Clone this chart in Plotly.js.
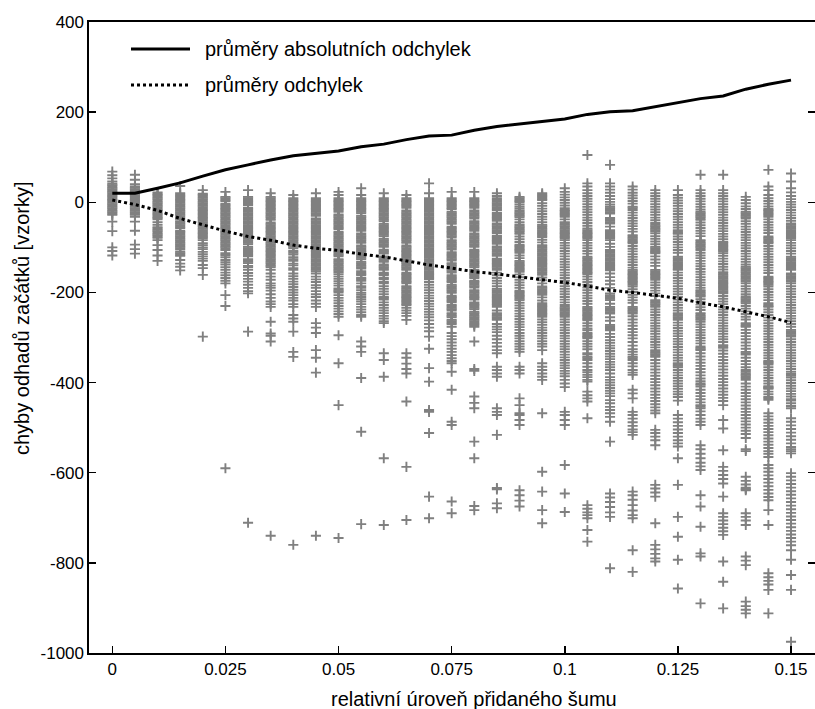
<!DOCTYPE html>
<html>
<head>
<meta charset="utf-8">
<script src="https://cdn.plot.ly/plotly-3.0.1.min.js"></script>
<style>html,body{margin:0;padding:0;background:#fff;}#chart{width:815px;height:709px;}</style>
</head>
<body>
<div id="chart"></div>
<script>
// noise levels (x)
const noise = [0,0.005,0.01,0.015,0.02,0.025,0.03,0.035,0.04,0.045,0.05,0.055,0.06,0.065,0.07,0.075,0.08,0.085,0.09,0.095,0.1,0.105,0.11,0.115,0.12,0.125,0.13,0.135,0.14,0.145,0.15];

// mean lines
const meanAbs = [20,20,31,43,58,72,83,94,103,109,114,123,129,139,147,149,160,168,174,179,185,195,201,203,212,221,230,236,251,262,271];
const meanDev = [5,-5,-18,-36,-50,-64,-76,-84,-95,-102,-107,-115,-121,-130,-139,-146,-154,-159,-165,-172,-178,-186,-195,-200,-206,-213,-223,-232,-243,-254,-267];

// individual onset-estimate errors per noise level
const e000 = [68,60,53,46,41,38,35,32,29,26,23,20,17,14,11,8,5,2,-1,-4,-7,-10,-13,-16,-19,-22,-25,-28,-43,-64,-100,-108,-118];
const e005 = [61,50,40,35,32,29,26,23,20,17,14,11,8,5,2,-1,-4,-7,-10,-13,-16,-19,-22,-25,-28,-32,-43,-63,-94,-104,-114];
const e010 = [22,19,16,13,10,7,4,1,-2,-5,-8,-11,-14,-17,-20,-23,-26,-29,-32,-35,-38,-44,-50,-55,-58,-61,-64,-67,-70,-73,-76,-79,-84,-95,-106,-118,-130];
const e015 = [36,20,17,14,11,8,5,2,-1,-4,-7,-10,-13,-16,-19,-22,-25,-28,-31,-34,-37,-42,-45,-48,-51,-54,-57,-63,-66,-69,-72,-75,-78,-81,-84,-87,-90,-93,-96,-99,-102,-105,-110,-113,-116,-119,-128,-136,-143,-151];
const e020 = [27,19,16,13,10,7,4,1,-2,-5,-8,-11,-14,-17,-20,-23,-26,-29,-32,-35,-38,-41,-44,-47,-50,-53,-56,-59,-62,-65,-68,-71,-74,-77,-80,-84,-91,-95,-100,-104,-110,-115,-120,-125,-130,-139,-146,-161,-298];
const e025 = [23,12,9,6,3,-3,-6,-9,-12,-15,-18,-21,-24,-27,-30,-33,-36,-39,-42,-45,-48,-51,-54,-57,-60,-63,-66,-69,-72,-75,-78,-81,-84,-87,-90,-93,-96,-99,-102,-106,-113,-117,-122,-128,-133,-138,-144,-150,-156,-162,-168,-174,-180,-206,-230,-590];
const e030 = [27,12,9,6,3,0,-3,-6,-12,-15,-18,-21,-24,-27,-30,-33,-36,-39,-42,-45,-48,-51,-54,-57,-60,-63,-66,-69,-72,-75,-78,-81,-84,-87,-90,-93,-99,-102,-105,-108,-111,-114,-117,-120,-126,-129,-132,-135,-141,-144,-150,-157,-163,-170,-176,-183,-190,-197,-202,-287,-711];
const e035 = [20,12,9,6,3,0,-3,-6,-9,-12,-15,-18,-21,-24,-27,-30,-33,-36,-39,-45,-48,-51,-54,-57,-60,-63,-66,-69,-72,-75,-78,-81,-84,-87,-90,-93,-96,-99,-102,-105,-108,-111,-114,-117,-120,-123,-126,-129,-132,-135,-138,-141,-144,-150,-158,-165,-172,-180,-185,-190,-196,-204,-212,-220,-226,-232,-265,-291,-296,-309,-740];
const e040 = [16,9,6,3,0,-3,-6,-9,-12,-15,-18,-21,-24,-27,-30,-33,-36,-39,-42,-45,-48,-51,-54,-57,-60,-63,-66,-69,-72,-75,-78,-81,-84,-87,-90,-93,-96,-99,-102,-108,-112,-116,-122,-126,-130,-136,-140,-146,-150,-158,-164,-170,-176,-182,-188,-194,-200,-206,-212,-218,-226,-232,-250,-258,-265,-287,-332,-343,-760];
const e045 = [20,9,6,3,0,-3,-6,-9,-12,-15,-18,-21,-24,-27,-30,-36,-39,-42,-45,-48,-51,-54,-57,-60,-63,-66,-69,-72,-75,-78,-81,-84,-87,-90,-93,-96,-99,-102,-105,-108,-111,-114,-117,-120,-123,-126,-129,-132,-135,-138,-141,-144,-147,-150,-153,-158,-165,-171,-177,-184,-190,-197,-204,-210,-218,-225,-232,-268,-278,-290,-328,-345,-378,-740];
const e050 = [23,16,9,6,3,0,-3,-6,-9,-12,-15,-18,-21,-27,-30,-33,-36,-39,-42,-45,-48,-51,-54,-57,-60,-66,-69,-72,-75,-78,-81,-84,-87,-90,-93,-96,-99,-102,-105,-108,-111,-114,-117,-120,-126,-129,-132,-135,-138,-141,-144,-147,-150,-153,-156,-160,-165,-170,-175,-180,-185,-191,-194,-197,-200,-206,-212,-218,-224,-230,-236,-242,-248,-254,-295,-357,-450,-745];
const e055 = [31,16,9,6,3,0,-3,-6,-9,-12,-15,-18,-21,-24,-30,-33,-36,-39,-42,-45,-48,-51,-54,-57,-60,-63,-69,-72,-75,-78,-81,-84,-87,-90,-96,-99,-102,-105,-108,-111,-114,-117,-120,-123,-126,-132,-135,-138,-141,-144,-147,-153,-156,-159,-162,-168,-171,-174,-180,-186,-190,-195,-201,-205,-210,-215,-220,-226,-232,-238,-244,-250,-254,-309,-320,-332,-390,-509,-714];
const e060 = [20,9,6,3,0,-3,-6,-9,-12,-15,-18,-21,-24,-27,-30,-33,-36,-39,-42,-48,-51,-54,-57,-60,-63,-66,-69,-72,-75,-81,-84,-87,-90,-93,-96,-99,-105,-108,-111,-114,-120,-123,-126,-129,-132,-138,-141,-144,-147,-150,-156,-159,-162,-168,-171,-177,-180,-186,-192,-198,-204,-210,-213,-216,-222,-228,-234,-240,-246,-252,-258,-264,-268,-335,-350,-387,-568,-716];
const e065 = [16,9,6,3,0,-3,-6,-9,-12,-18,-21,-24,-27,-30,-33,-36,-39,-42,-45,-48,-51,-54,-57,-60,-63,-66,-69,-72,-75,-78,-81,-84,-87,-90,-96,-99,-102,-105,-108,-111,-114,-117,-120,-123,-126,-129,-132,-135,-138,-141,-144,-147,-150,-156,-159,-162,-165,-168,-171,-174,-177,-180,-186,-189,-192,-195,-198,-201,-204,-207,-210,-213,-216,-219,-222,-225,-228,-234,-240,-246,-252,-261,-335,-345,-358,-370,-380,-442,-587,-705];
const e070 = [42,20,9,6,3,0,-3,-6,-9,-12,-15,-18,-21,-24,-27,-30,-33,-36,-39,-42,-45,-48,-51,-54,-57,-60,-63,-66,-69,-72,-75,-78,-81,-84,-87,-90,-93,-96,-99,-102,-105,-108,-111,-114,-117,-120,-123,-126,-129,-132,-135,-138,-141,-144,-147,-150,-153,-156,-159,-162,-165,-168,-171,-177,-183,-189,-195,-201,-207,-213,-219,-225,-231,-237,-243,-249,-255,-262,-270,-278,-286,-298,-325,-368,-398,-461,-465,-512,-653,-701];
const e075 = [23,9,6,3,0,-3,-6,-9,-12,-15,-21,-24,-27,-30,-33,-36,-39,-42,-45,-48,-54,-57,-60,-63,-66,-69,-72,-75,-78,-84,-87,-90,-93,-96,-99,-102,-105,-111,-114,-117,-120,-123,-126,-129,-135,-138,-141,-144,-147,-150,-153,-156,-162,-165,-168,-171,-174,-177,-183,-186,-189,-192,-195,-198,-201,-207,-210,-213,-216,-219,-222,-228,-231,-234,-237,-240,-246,-249,-252,-255,-261,-264,-267,-270,-276,-290,-297,-304,-311,-318,-325,-332,-339,-346,-352,-357,-376,-416,-487,-494,-664,-690];
const e080 = [23,9,6,3,0,-3,-6,-9,-12,-18,-21,-24,-27,-30,-33,-36,-42,-45,-48,-51,-54,-57,-60,-63,-69,-72,-75,-78,-81,-84,-87,-90,-93,-96,-99,-105,-108,-111,-114,-117,-120,-123,-126,-129,-132,-135,-138,-141,-144,-150,-153,-156,-159,-162,-165,-168,-174,-177,-180,-183,-186,-189,-195,-198,-201,-204,-207,-210,-213,-216,-222,-225,-228,-231,-234,-237,-243,-246,-249,-252,-255,-258,-261,-264,-267,-270,-273,-276,-309,-370,-374,-431,-445,-457,-531,-568,-674,-683];
const e085 = [20,14,9,5,1,-2,-5,-8,-11,-14,-17,-23,-26,-29,-32,-35,-38,-41,-47,-50,-53,-56,-59,-62,-65,-68,-74,-77,-80,-83,-86,-89,-92,-98,-101,-104,-107,-110,-113,-116,-119,-125,-128,-131,-134,-137,-140,-143,-146,-150,-156,-162,-168,-174,-180,-186,-192,-195,-198,-201,-204,-207,-210,-213,-216,-219,-222,-225,-228,-232,-240,-246,-249,-252,-255,-258,-261,-270,-276,-282,-288,-296,-304,-312,-320,-328,-335,-365,-372,-380,-387,-457,-465,-472,-516,-634,-637,-668,-679];
const e090 = [12,9,6,3,0,-5,-10,-14,-18,-21,-24,-27,-30,-33,-38,-44,-49,-52,-55,-58,-61,-64,-67,-70,-76,-82,-88,-94,-97,-100,-103,-106,-109,-112,-118,-124,-130,-133,-136,-139,-142,-145,-148,-151,-154,-160,-166,-172,-178,-184,-190,-196,-199,-202,-205,-208,-211,-214,-217,-223,-229,-235,-241,-247,-253,-259,-265,-271,-277,-283,-290,-296,-302,-308,-314,-320,-326,-332,-365,-372,-380,-435,-450,-468,-472,-483,-494,-639,-650,-662,-675];
const e095 = [20,17,14,11,8,5,-2,-8,-14,-20,-26,-32,-38,-44,-50,-53,-56,-59,-62,-65,-68,-71,-74,-77,-83,-89,-95,-98,-101,-104,-107,-110,-113,-116,-119,-122,-125,-128,-131,-134,-137,-140,-143,-146,-149,-152,-155,-158,-161,-167,-173,-180,-187,-190,-193,-196,-199,-202,-205,-211,-218,-224,-227,-230,-233,-236,-239,-242,-245,-248,-251,-254,-260,-266,-272,-278,-284,-290,-296,-302,-308,-314,-320,-328,-357,-365,-372,-380,-387,-394,-468,-598,-642,-683,-712];
const e100 = [31,23,17,11,5,-1,-7,-13,-17,-20,-23,-26,-29,-32,-38,-44,-47,-50,-53,-56,-59,-62,-65,-68,-71,-74,-77,-80,-84,-90,-96,-102,-108,-114,-120,-126,-132,-138,-144,-150,-156,-162,-168,-174,-180,-186,-192,-198,-204,-210,-216,-222,-228,-232,-235,-238,-241,-244,-247,-250,-254,-260,-266,-272,-278,-284,-290,-296,-302,-308,-314,-320,-326,-332,-338,-344,-350,-356,-362,-368,-374,-380,-386,-394,-402,-410,-465,-472,-483,-494,-583,-646,-687];
const e105 = [105,42,35,27,20,14,8,2,-4,-10,-16,-22,-28,-34,-40,-46,-52,-58,-62,-65,-68,-71,-74,-77,-80,-84,-90,-96,-102,-108,-114,-121,-124,-127,-130,-133,-136,-139,-142,-145,-148,-151,-154,-157,-160,-165,-171,-177,-183,-189,-195,-201,-207,-213,-219,-225,-232,-235,-238,-241,-244,-247,-250,-253,-256,-259,-262,-268,-274,-280,-284,-290,-293,-296,-299,-302,-308,-314,-320,-326,-335,-338,-343,-346,-350,-357,-365,-372,-377,-383,-388,-394,-398,-420,-428,-435,-442,-479,-672,-680,-688,-694,-701,-727,-753];
const e110 = [83,42,35,28,21,14,7,1,-5,-10,-13,-16,-19,-22,-25,-35,-38,-41,-44,-47,-54,-62,-65,-68,-71,-74,-77,-80,-84,-92,-99,-106,-109,-112,-115,-118,-121,-124,-127,-130,-133,-136,-139,-142,-145,-148,-151,-158,-166,-174,-182,-190,-202,-206,-210,-214,-217,-225,-232,-235,-238,-241,-244,-247,-255,-263,-272,-275,-278,-281,-284,-292,-299,-306,-312,-318,-324,-330,-336,-342,-348,-354,-360,-366,-372,-380,-388,-394,-400,-406,-412,-418,-424,-430,-439,-446,-454,-461,-468,-476,-487,-531,-646,-655,-665,-676,-688,-698,-812];
const e115 = [35,28,21,15,9,3,-3,-10,-13,-17,-23,-29,-35,-41,-47,-53,-59,-65,-73,-76,-79,-82,-85,-88,-91,-97,-103,-109,-115,-121,-127,-133,-139,-145,-150,-153,-156,-159,-162,-165,-168,-171,-174,-177,-180,-183,-187,-193,-199,-205,-211,-217,-223,-232,-235,-238,-241,-244,-247,-253,-260,-267,-274,-281,-288,-295,-302,-310,-318,-326,-332,-338,-343,-346,-350,-357,-364,-372,-378,-383,-416,-424,-435,-465,-472,-480,-488,-496,-504,-510,-516,-642,-650,-660,-672,-684,-694,-701,-772,-820];
const e120 = [27,20,14,8,2,-4,-10,-16,-22,-28,-34,-40,-46,-50,-53,-56,-59,-62,-65,-69,-75,-81,-87,-93,-99,-102,-105,-108,-111,-113,-120,-127,-134,-141,-150,-153,-156,-159,-162,-165,-168,-172,-178,-184,-190,-196,-202,-208,-217,-220,-223,-226,-229,-232,-238,-244,-250,-256,-262,-268,-274,-280,-286,-292,-298,-304,-310,-316,-322,-328,-331,-334,-337,-340,-343,-350,-357,-364,-371,-378,-385,-392,-399,-406,-413,-420,-427,-434,-441,-448,-455,-462,-468,-505,-512,-520,-528,-539,-627,-635,-644,-653,-712,-760,-770,-780,-790,-797];
const e125 = [27,16,10,4,-2,-8,-14,-20,-26,-32,-38,-44,-50,-56,-62,-65,-68,-70,-76,-82,-88,-94,-100,-106,-112,-121,-124,-127,-130,-133,-136,-139,-142,-145,-148,-150,-156,-162,-168,-174,-180,-186,-192,-198,-204,-210,-216,-222,-228,-234,-240,-246,-249,-252,-255,-258,-261,-267,-273,-279,-285,-291,-297,-303,-309,-315,-321,-327,-333,-339,-345,-351,-357,-360,-363,-366,-372,-378,-384,-390,-396,-402,-408,-414,-420,-426,-432,-440,-472,-480,-488,-496,-504,-512,-520,-528,-535,-542,-568,-627,-698,-742,-793,-857];
const e130 = [61,27,20,14,8,2,-4,-10,-16,-21,-24,-27,-30,-33,-36,-39,-45,-51,-57,-63,-69,-75,-84,-87,-90,-93,-96,-99,-102,-106,-112,-118,-124,-130,-136,-142,-148,-154,-160,-166,-172,-178,-184,-190,-195,-198,-201,-204,-207,-209,-215,-221,-227,-233,-239,-246,-249,-252,-255,-258,-261,-265,-271,-277,-283,-289,-295,-301,-307,-313,-320,-323,-326,-328,-335,-342,-349,-356,-363,-370,-377,-384,-391,-397,-402,-405,-409,-416,-423,-430,-437,-444,-450,-453,-457,-464,-472,-480,-487,-494,-539,-548,-558,-568,-578,-586,-594,-650,-675,-720,-779,-786,-890];
const e135 = [61,27,20,14,8,2,-4,-10,-16,-22,-28,-34,-40,-46,-52,-58,-64,-70,-76,-82,-88,-91,-94,-97,-100,-103,-106,-109,-113,-119,-125,-131,-137,-143,-149,-155,-158,-161,-164,-167,-170,-173,-176,-179,-182,-185,-188,-191,-194,-197,-200,-202,-208,-214,-220,-226,-232,-238,-244,-250,-256,-262,-268,-274,-280,-286,-292,-298,-304,-310,-317,-320,-323,-329,-336,-343,-350,-357,-364,-371,-378,-385,-392,-399,-406,-413,-420,-427,-434,-441,-450,-483,-502,-550,-587,-596,-605,-614,-624,-653,-690,-698,-706,-714,-722,-730,-738,-797,-842,-901];
const e140 = [12,5,-2,-9,-15,-21,-24,-27,-30,-33,-36,-42,-48,-54,-60,-66,-72,-78,-84,-90,-96,-102,-108,-114,-120,-126,-132,-138,-143,-146,-149,-152,-155,-158,-161,-164,-167,-170,-173,-176,-180,-186,-192,-198,-204,-209,-212,-215,-218,-221,-224,-230,-236,-242,-248,-254,-260,-268,-271,-274,-276,-283,-290,-297,-304,-311,-318,-325,-332,-335,-338,-345,-352,-359,-366,-372,-376,-380,-383,-386,-390,-394,-402,-409,-416,-423,-430,-437,-444,-451,-458,-465,-472,-479,-486,-493,-500,-507,-514,-523,-548,-552,-609,-618,-626,-633,-636,-639,-690,-698,-706,-716,-786,-795,-805,-886,-896,-904,-912];
const e145 = [72,35,27,16,9,3,-3,-9,-14,-17,-20,-23,-26,-29,-32,-38,-44,-50,-56,-62,-68,-76,-79,-82,-85,-88,-91,-97,-103,-109,-115,-121,-127,-133,-139,-145,-151,-157,-165,-168,-171,-174,-177,-180,-183,-187,-193,-199,-205,-211,-217,-224,-227,-230,-232,-238,-244,-250,-256,-262,-268,-274,-280,-286,-292,-298,-304,-310,-316,-322,-328,-334,-340,-346,-352,-355,-357,-360,-366,-372,-378,-384,-390,-396,-402,-408,-410,-412,-414,-420,-426,-432,-435,-438,-468,-475,-482,-489,-496,-503,-510,-517,-524,-531,-538,-545,-552,-558,-565,-583,-590,-598,-606,-614,-622,-630,-638,-646,-654,-661,-683,-716,-823,-832,-840,-848,-860,-912];
const e150 = [64,46,31,22,14,7,1,-5,-11,-17,-23,-29,-35,-41,-47,-50,-53,-56,-59,-62,-65,-68,-71,-74,-77,-80,-84,-90,-96,-102,-108,-114,-121,-124,-127,-130,-133,-136,-139,-142,-145,-148,-150,-158,-161,-164,-167,-170,-173,-176,-180,-186,-192,-198,-204,-210,-216,-222,-228,-234,-240,-246,-252,-258,-264,-270,-276,-283,-286,-289,-292,-295,-298,-304,-310,-316,-322,-328,-334,-340,-346,-352,-358,-364,-370,-376,-381,-385,-389,-395,-401,-407,-413,-419,-425,-431,-437,-440,-446,-452,-457,-479,-487,-495,-503,-511,-519,-527,-535,-543,-548,-552,-557,-601,-609,-617,-625,-633,-641,-649,-657,-665,-673,-681,-689,-697,-705,-713,-721,-729,-737,-745,-753,-761,-772,-793,-827,-860,-975];

// tick labels
const xTickVals = [0,0.025,0.05,0.075,0.1,0.125,0.15];
const xTickText = ['0','0.025','0.05','0.075','0.1','0.125','0.15'];
const yTickVals = [-1000,-800,-600,-400,-200,0,200,400];
const yTickText = ['-1000','-800','-600','-400','-200','0','200','400'];

const legendLabels = ['průměry absolutních odchylek','průměry odchylek'];
const xTitle = 'relativní úroveň přidaného šumu';
const yTitle = 'chyby odhadů začátků [vzorky]';

const columns = [e000,e005,e010,e015,e020,e025,e030,e035,e040,e045,e050,e055,e060,e065,e070,e075,e080,e085,e090,e095,e100,e105,e110,e115,e120,e125,e130,e135,e140,e145,e150];
const px = [], py = [];
columns.forEach((col, i) => { col.forEach(v => { px.push(noise[i]); py.push(v); }); });

const FONT = 'Liberation Sans, Arial, Helvetica, sans-serif';
const gray = '#808080';

const traces = [
  {x: px, y: py, type: 'scatter', mode: 'markers', showlegend: false, hoverinfo: 'skip',
   marker: {symbol: 'cross-thin', size: 7.2, color: gray, line: {width: 1.9, color: gray}}},
  {x: noise, y: meanAbs, type: 'scatter', mode: 'lines', showlegend: false,
   line: {color: '#000', width: 3}},
  {x: noise, y: meanDev, type: 'scatter', mode: 'lines', showlegend: false,
   line: {color: '#000', width: 3, dash: 'dot'}}
];

const W = 726, H = 631, L = 89, T = 22;
const pxX = p => (p - L) / W;
const pxY = p => (T + H - p) / H;

const layout = {
  width: 815, height: 709,
  margin: {l: L, r: 0, t: T, b: 709 - T - H, pad: 0},
  paper_bgcolor: '#fff', plot_bgcolor: '#fff',
  font: {family: FONT, size: 17, color: '#000'},
  xaxis: {range: [-0.00515, 0.1553], tickvals: xTickVals, ticktext: xTickText,
    ticks: 'inside', ticklen: 7, tickwidth: 1.5, tickcolor: '#000',
    showline: true, linecolor: '#000', linewidth: 1.6, mirror: true,
    showgrid: false, zeroline: false, tickfont: {size: 17, family: FONT, color: '#000'}},
  yaxis: {range: [-1000, 400], tickvals: yTickVals, ticktext: yTickText,
    ticks: 'inside', ticklen: 7, tickwidth: 1.5, tickcolor: '#000',
    showline: true, linecolor: '#000', linewidth: 1.6, mirror: 'ticks',
    showgrid: false, zeroline: false, tickfont: {size: 17, family: FONT, color: '#000'}},
  shapes: [
    {type: 'line', xref: 'paper', yref: 'paper', x0: pxX(131), x1: pxX(190), y0: pxY(49), y1: pxY(49),
     line: {color: '#000', width: 3}},
    {type: 'line', xref: 'paper', yref: 'paper', x0: pxX(131), x1: pxX(190), y0: pxY(85), y1: pxY(85),
     line: {color: '#000', width: 3, dash: 'dot'}}
  ],
  annotations: [
    {text: legendLabels[0], xref: 'paper', yref: 'paper', x: pxX(203), y: pxY(49), xanchor: 'left', yanchor: 'middle',
     showarrow: false, font: {size: 20, family: FONT, color: '#000'}},
    {text: legendLabels[1], xref: 'paper', yref: 'paper', x: pxX(203), y: pxY(85), xanchor: 'left', yanchor: 'middle',
     showarrow: false, font: {size: 20, family: FONT, color: '#000'}},
    {text: xTitle, xref: 'paper', yref: 'paper', x: pxX(474.5), y: pxY(699), xanchor: 'center', yanchor: 'middle',
     showarrow: false, font: {size: 20, family: FONT, color: '#000'}},
    {text: yTitle, xref: 'paper', yref: 'paper', x: pxX(22), y: pxY(319), xanchor: 'center', yanchor: 'middle',
     textangle: -90, showarrow: false, font: {size: 20, family: FONT, color: '#000'}}
  ]
};

Plotly.newPlot('chart', traces, layout, {staticPlot: true, displayModeBar: false});
</script>
</body>
</html>
